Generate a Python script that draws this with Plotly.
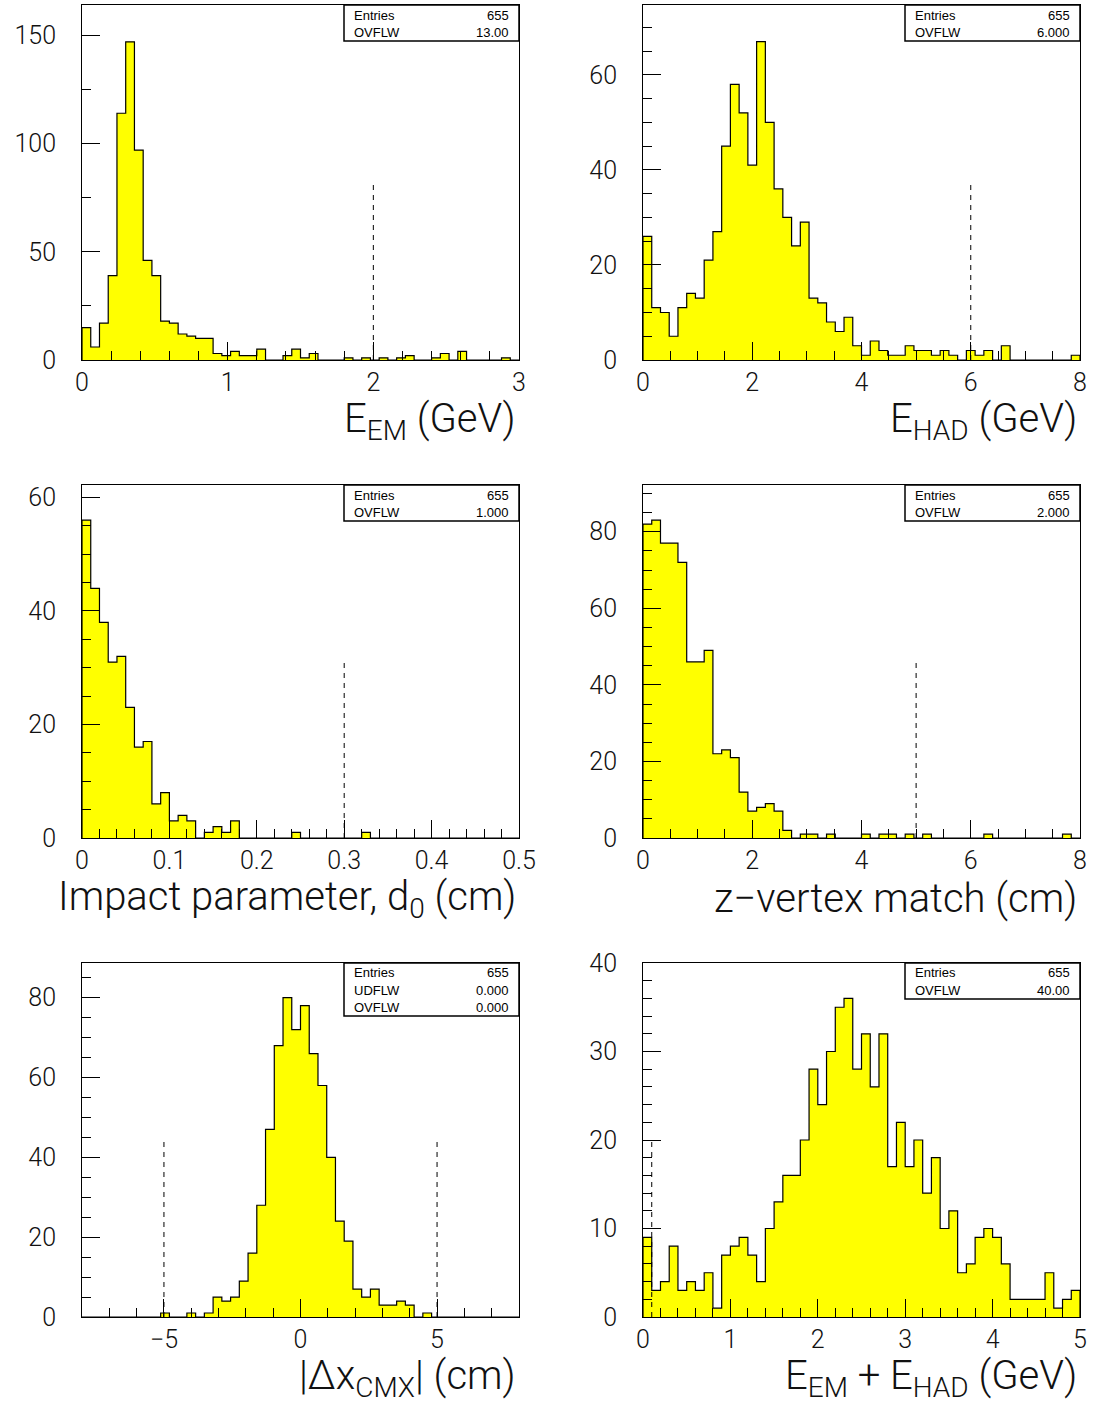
import numpy as np
import plotly.graph_objects as go

W, H = 1094, 1403

# ---- histogram contents (50 bins each) ----
em_counts = [15, 6, 17, 39, 114, 147, 97, 46, 39, 18, 17, 12, 11, 10, 10, 3, 2, 4, 2, 2,
             5, 0, 0, 2, 5, 1, 3, 0, 0, 0, 1, 0, 1, 0, 1, 0, 1, 2, 0, 0,
             1, 3, 0, 4, 0, 0, 0, 0, 1, 0]
had_counts = [26, 11, 10, 5, 11, 14, 13, 21, 27, 45, 58, 52, 41, 67, 50, 36, 30, 24, 29, 13,
              12, 8, 6, 9, 3, 1, 4, 2, 1, 1, 3, 2, 2, 1, 2, 1, 0, 2, 1, 2,
              0, 3, 0, 0, 0, 0, 0, 0, 0, 1]
d0_counts = [56, 44, 38, 31, 32, 23, 16, 17, 6, 8, 3, 4, 3, 0, 1, 2, 1, 3, 0, 0,
             0, 0, 0, 0, 1, 0, 0, 0, 0, 0, 0, 0, 1, 0, 0, 0, 0, 0, 0, 0,
             0, 0, 0, 0, 0, 0, 0, 0, 0, 0]
dz_counts = [82, 83, 77, 77, 72, 46, 46, 49, 22, 23, 21, 12, 7, 8, 9, 7, 2, 0, 1, 1,
             0, 1, 0, 0, 0, 1, 0, 1, 1, 0, 1, 0, 1, 0, 0, 0, 0, 0, 0, 1,
             0, 0, 0, 0, 0, 0, 0, 0, 1, 0]
dx_counts = [0, 0, 0, 0, 0, 0, 0, 0, 0, 1, 0, 0, 1, 0, 1, 5, 4, 5, 9, 16,
             28, 47, 68, 80, 72, 78, 66, 58, 40, 24, 19, 7, 5, 7, 3, 3, 4, 3, 0, 1,
             0, 0, 0, 0, 0, 0, 0, 0, 0, 0]
sum_counts = [9, 3, 4, 8, 3, 4, 3, 5, 1, 7, 8, 9, 7, 4, 10, 13, 16, 16, 20, 28,
              24, 30, 35, 36, 28, 32, 26, 32, 17, 22, 17, 20, 14, 18, 10, 12, 5, 6, 9, 10,
              9, 6, 2, 2, 2, 2, 5, 1, 2, 3]

x_ranges = [(0, 3), (0, 8), (0, 0.5), (0, 8), (-8, 8), (0, 5)]
titles = ["E<sub>EM</sub> (GeV)", "E<sub>HAD</sub> (GeV)",
          "Impact parameter, d<sub>0</sub> (cm)", "z\u2212vertex match (cm)",
          "|\u0394x<sub>CMX</sub>| (cm)", "E<sub>EM</sub> + E<sub>HAD</sub> (GeV)"]
stat_labels = [["Entries", "OVFLW"], ["Entries", "OVFLW"], ["Entries", "OVFLW"],
               ["Entries", "OVFLW"], ["Entries", "UDFLW", "OVFLW"], ["Entries", "OVFLW"]]
stat_values = [["655", "13.00"], ["655", "6.000"], ["655", "1.000"],
               ["655", "2.000"], ["655", "0.000", "0.000"], ["655", "40.00"]]
cut_positions = [[2], [6], [0.3], [5], [-5, 5], [0.1]]
cut_heights = [82, 37.5, 31, 46, 45, 20]

all_counts = [em_counts, had_counts, d0_counts, dz_counts, dx_counts, sum_counts]

# ---- frame geometry (pixels) and axis styling ----
col_px = [(82, 519), (643, 1080)]
row_px = [(5, 360), (485, 838), (963, 1317)]
y_tops = [164, 74.7, 62.2, 92.2, 88.7, 40]
y_major = [50, 20, 20, 20, 20, 10]
y_minor = [25, 5, 5, 5, 5, 2]
x_major = [1, 2, 0.1, 2, 5, 1]
x_minor = [0.2, 0.5, 0.02, 0.5, 1, 0.2]

FONT = "Roboto"
tick_font = dict(family=FONT, size=25, color="#111111", weight=300)
title_font = dict(family=FONT, size=40, color="#111111", weight=300)
stat_font = dict(family="Liberation Sans", size=13, color="black")


def px(x):
    return x / W


def py(y):
    return 1 - y / H


fig = go.Figure()
layout = dict(width=W, height=H, autosize=False,
              margin=dict(l=0, r=0, t=0, b=0, pad=0, autoexpand=False),
              paper_bgcolor="white", plot_bgcolor="white", showlegend=False)
shapes, annotations = [], []

for i in range(6):
    r, c = divmod(i, 2)
    x0p, x1p = col_px[c]
    y0p, y1p = row_px[r]
    xa = "x" if i == 0 else f"x{i + 1}"
    ya = "y" if i == 0 else f"y{i + 1}"
    lo, hi = x_ranges[i]
    counts = all_counts[i]
    n = len(counts)
    edges = np.linspace(lo, hi, n + 1)

    # filled step outline of the histogram
    xs = [edges[0]] + list(edges[:-1]) + [edges[-1], edges[-1]]
    ys = [0] + list(counts) + [counts[-1], 0]
    fig.add_trace(go.Scatter(x=xs, y=ys, mode="lines", line_shape="hv",
                             fill="tozeroy", fillcolor="#ffff00",
                             line=dict(color="black", width=1.2),
                             xaxis=xa, yaxis=ya, hoverinfo="skip"))

    # dashed cut markers
    for xc in cut_positions[i]:
        fig.add_trace(go.Scatter(x=[xc, xc], y=[0, cut_heights[i]], mode="lines",
                                 line=dict(color="black", width=1, dash="5px,5px"),
                                 xaxis=xa, yaxis=ya, hoverinfo="skip"))

    common = dict(showline=True, linecolor="black", linewidth=1, mirror=True,
                  showgrid=False, zeroline=False, ticks="inside", tickcolor="black",
                  tickwidth=1, ticklen=18, tickfont=tick_font, automargin=False)
    layout["xaxis" if i == 0 else f"xaxis{i + 1}"] = dict(
        common, domain=[px(x0p), px(x1p)], anchor=ya, range=[lo, hi],
        tick0=0, dtick=x_major[i], ticklabelstandoff=0,
        minor=dict(dtick=x_minor[i], tick0=0, ticks="inside", ticklen=9,
                   tickcolor="black", tickwidth=1, showgrid=False))
    layout["yaxis" if i == 0 else f"yaxis{i + 1}"] = dict(
        common, domain=[py(y1p), py(y0p)], anchor=xa, range=[0, y_tops[i]],
        tick0=0, dtick=y_major[i], ticklabelstandoff=20,
        minor=dict(dtick=y_minor[i], tick0=0, ticks="inside", ticklen=9,
                   tickcolor="black", tickwidth=1, showgrid=False))

    # axis title, right-aligned under the frame
    annotations.append(dict(text=titles[i], xref="paper", yref="paper",
                            x=px(x1p - 1), y=py(y1p + 61), xanchor="right",
                            yanchor="middle", showarrow=False, font=title_font))

    # statistics box in the top-right corner
    nrow = len(stat_labels[i])
    bx0 = x1p - 175
    by1 = y0p + 17 * nrow + 2
    shapes.append(dict(type="rect", xref="paper", yref="paper",
                       x0=px(bx0), x1=px(x1p), y0=py(by1), y1=py(y0p),
                       line=dict(color="black", width=1.5), fillcolor="white"))
    for k in range(nrow):
        yk = py(y0p + 10 + 17 * k)
        annotations.append(dict(text=stat_labels[i][k], xref="paper", yref="paper",
                                x=px(bx0 + 8), y=yk, xanchor="left", yanchor="middle",
                                showarrow=False, font=stat_font))
        annotations.append(dict(text=stat_values[i][k], xref="paper", yref="paper",
                                x=px(x1p - 8), y=yk, xanchor="right", yanchor="middle",
                                showarrow=False, font=stat_font))

layout["shapes"] = shapes
layout["annotations"] = annotations
fig.update_layout(**layout)
fig.write_html("out.html", config={"responsive": False})
